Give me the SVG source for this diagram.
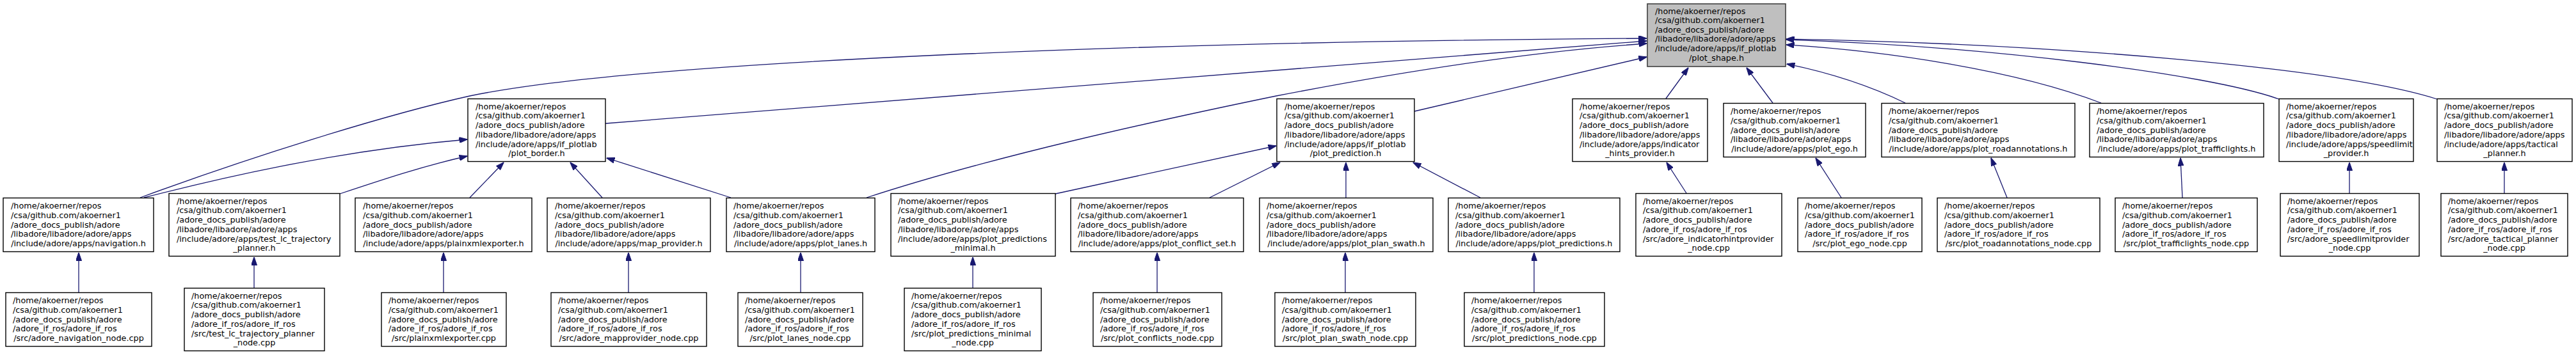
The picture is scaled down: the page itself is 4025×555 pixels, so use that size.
<svg xmlns="http://www.w3.org/2000/svg" width="4025" height="555" viewBox="0 0 4025 555">
<style>
.n rect{fill:#ffffff;stroke:#000000;stroke-width:1.4}
.r rect{fill:#bfbfbf;stroke:#404040;stroke-width:1.6}
text{font-family:"DejaVu Sans",Verdana,sans-serif;font-size:12.8px;fill:#000000}
.c{text-anchor:middle}
.e path{fill:none;stroke:#191970;stroke-width:1.3;marker-end:url(#arr)}
</style>
<defs>
<marker id="arr" markerUnits="userSpaceOnUse" viewBox="0 0 13 9" markerWidth="13" markerHeight="9" refX="12.5" refY="4.5" orient="auto">
<path d="M0,0 L13,4.5 L0,9 Z" fill="#191970" stroke="#191970" stroke-width="1"/>
</marker>
</defs>
<rect x="0" y="0" width="4025" height="555" fill="#ffffff"/>

<g id="edges" class="e">
<path d="M225,309 C330,282 520,236 730,218"/>
<path d="M219,309 C390,246 600,180 734,150 C1000,95 1800,65 2573,60"/>
<path d="M531,303 C600,280 660,260 730,244"/>
<path d="M734,309 L787,254"/>
<path d="M941,309 L891,254"/>
<path d="M1142,309 L948,247"/>
<path d="M946,193 L2573,64"/>
<path d="M1354,309 C1550,245 1800,190 1994,150 C2200,110 2400,80 2573,68"/>
<path d="M1649,303 L1994,228"/>
<path d="M1890,309 L2000,254"/>
<path d="M2103,309 L2103,254"/>
<path d="M2313,309 L2208,254"/>
<path d="M2210,174 L2573,89"/>
<path d="M2603,154 L2638,106"/>
<path d="M2770,161 L2729,106"/>
<path d="M2977,161 C2940,143 2880,118 2792,100"/>
<path d="M3283,161 C3150,110 2950,80 2791,70"/>
<path d="M3561,155 C3450,115 3100,72 2791,62"/>
<path d="M3808,155 C3650,105 3200,68 2791,61"/>
<path d="M2635,302 L2604,254"/>
<path d="M2877,309 L2837,247"/>
<path d="M3136,309 L3111,247"/>
<path d="M3410,309 L3407,247"/>
<path d="M3671,302 L3671,254"/>
<path d="M3913,302 L3913,254"/>
<path d="M123,457 L123,395"/>
<path d="M397,450 L397,402"/>
<path d="M693,457 L693,395"/>
<path d="M982,457 L982,395"/>
<path d="M1251,457 L1251,395"/>
<path d="M1520,450 L1520,402"/>
<path d="M1808,457 L1808,395"/>
<path d="M2102,457 L2102,395"/>
<path d="M2397,457 L2397,395"/>
</g>

<g id="root" class="r">
<rect x="2574" y="6" width="216" height="98"/>
<text x="2586" y="21.5"><tspan x="2586">/home/akoerner/repos</tspan><tspan x="2586" dy="14.6">/csa/github.com/akoerner1</tspan><tspan x="2586" dy="14.6">/adore_docs_publish/adore</tspan><tspan x="2586" dy="14.6">/libadore/libadore/adore/apps</tspan><tspan x="2586" dy="14.6">/include/adore/apps/if_plotlab</tspan></text>
<text class="c" x="2682" y="94.5">/plot_shape.h</text>
</g>

<g id="plot_border" class="n">
<rect x="731" y="154.5" width="215" height="98"/>
<text x="743" y="170.75"><tspan x="743">/home/akoerner/repos</tspan><tspan x="743" dy="14.7">/csa/github.com/akoerner1</tspan><tspan x="743" dy="14.7">/adore_docs_publish/adore</tspan><tspan x="743" dy="14.7">/libadore/libadore/adore/apps</tspan><tspan x="743" dy="14.7">/include/adore/apps/if_plotlab</tspan></text>
<text class="c" x="838.5" y="244.25">/plot_border.h</text>
</g>

<g id="plot_prediction" class="n">
<rect x="1995" y="154.5" width="215" height="98"/>
<text x="2007" y="170.75"><tspan x="2007">/home/akoerner/repos</tspan><tspan x="2007" dy="14.7">/csa/github.com/akoerner1</tspan><tspan x="2007" dy="14.7">/adore_docs_publish/adore</tspan><tspan x="2007" dy="14.7">/libadore/libadore/adore/apps</tspan><tspan x="2007" dy="14.7">/include/adore/apps/if_plotlab</tspan></text>
<text class="c" x="2102.5" y="244.25">/plot_prediction.h</text>
</g>

<g id="indicator_hints_provider" class="n">
<rect x="2457" y="154.5" width="211" height="98"/>
<text x="2468" y="170.75"><tspan x="2468">/home/akoerner/repos</tspan><tspan x="2468" dy="14.7">/csa/github.com/akoerner1</tspan><tspan x="2468" dy="14.7">/adore_docs_publish/adore</tspan><tspan x="2468" dy="14.7">/libadore/libadore/adore/apps</tspan><tspan x="2468" dy="14.7">/include/adore/apps/indicator</tspan></text>
<text class="c" x="2562.5" y="244.25">_hints_provider.h</text>
</g>

<g id="plot_ego" class="n">
<rect x="2693" y="161.5" width="222" height="84"/>
<text x="2704" y="178.1"><tspan x="2704">/home/akoerner/repos</tspan><tspan x="2704" dy="14.7">/csa/github.com/akoerner1</tspan><tspan x="2704" dy="14.7">/adore_docs_publish/adore</tspan><tspan x="2704" dy="14.7">/libadore/libadore/adore/apps</tspan></text>
<text class="c" x="2804" y="236.9">/include/adore/apps/plot_ego.h</text>
</g>

<g id="plot_roadannotations" class="n">
<rect x="2940" y="161.5" width="302" height="84"/>
<text x="2951" y="178.1"><tspan x="2951">/home/akoerner/repos</tspan><tspan x="2951" dy="14.7">/csa/github.com/akoerner1</tspan><tspan x="2951" dy="14.7">/adore_docs_publish/adore</tspan><tspan x="2951" dy="14.7">/libadore/libadore/adore/apps</tspan></text>
<text class="c" x="3091" y="236.9">/include/adore/apps/plot_roadannotations.h</text>
</g>

<g id="plot_trafficlights" class="n">
<rect x="3265" y="161.5" width="272" height="84"/>
<text x="3276" y="178.1"><tspan x="3276">/home/akoerner/repos</tspan><tspan x="3276" dy="14.7">/csa/github.com/akoerner1</tspan><tspan x="3276" dy="14.7">/adore_docs_publish/adore</tspan><tspan x="3276" dy="14.7">/libadore/libadore/adore/apps</tspan></text>
<text class="c" x="3401" y="236.9">/include/adore/apps/plot_trafficlights.h</text>
</g>

<g id="speedlimit_provider" class="n">
<rect x="3561" y="154.5" width="210" height="98"/>
<text x="3572" y="170.75"><tspan x="3572">/home/akoerner/repos</tspan><tspan x="3572" dy="14.7">/csa/github.com/akoerner1</tspan><tspan x="3572" dy="14.7">/adore_docs_publish/adore</tspan><tspan x="3572" dy="14.7">/libadore/libadore/adore/apps</tspan><tspan x="3572" dy="14.7">/include/adore/apps/speedlimit</tspan></text>
<text class="c" x="3666" y="244.25">_provider.h</text>
</g>

<g id="tactical_planner" class="n">
<rect x="3808" y="154.5" width="211" height="98"/>
<text x="3819" y="170.75"><tspan x="3819">/home/akoerner/repos</tspan><tspan x="3819" dy="14.7">/csa/github.com/akoerner1</tspan><tspan x="3819" dy="14.7">/adore_docs_publish/adore</tspan><tspan x="3819" dy="14.7">/libadore/libadore/adore/apps</tspan><tspan x="3819" dy="14.7">/include/adore/apps/tactical</tspan></text>
<text class="c" x="3913.5" y="244.25">_planner.h</text>
</g>

<g id="navigation" class="n">
<rect x="5" y="309.5" width="235" height="84"/>
<text x="17" y="326.1"><tspan x="17">/home/akoerner/repos</tspan><tspan x="17" dy="14.7">/csa/github.com/akoerner1</tspan><tspan x="17" dy="14.7">/adore_docs_publish/adore</tspan><tspan x="17" dy="14.7">/libadore/libadore/adore/apps</tspan></text>
<text class="c" x="122.5" y="384.9">/include/adore/apps/navigation.h</text>
</g>

<g id="test_lc_trajectory_planner" class="n">
<rect x="264" y="302.5" width="267" height="98"/>
<text x="276" y="318.75"><tspan x="276">/home/akoerner/repos</tspan><tspan x="276" dy="14.7">/csa/github.com/akoerner1</tspan><tspan x="276" dy="14.7">/adore_docs_publish/adore</tspan><tspan x="276" dy="14.7">/libadore/libadore/adore/apps</tspan><tspan x="276" dy="14.7">/include/adore/apps/test_lc_trajectory</tspan></text>
<text class="c" x="397.5" y="392.25">_planner.h</text>
</g>

<g id="plainxmlexporter" class="n">
<rect x="555" y="309.5" width="276" height="84"/>
<text x="567" y="326.1"><tspan x="567">/home/akoerner/repos</tspan><tspan x="567" dy="14.7">/csa/github.com/akoerner1</tspan><tspan x="567" dy="14.7">/adore_docs_publish/adore</tspan><tspan x="567" dy="14.7">/libadore/libadore/adore/apps</tspan></text>
<text class="c" x="693" y="384.9">/include/adore/apps/plainxmlexporter.h</text>
</g>

<g id="map_provider" class="n">
<rect x="855" y="309.5" width="255" height="84"/>
<text x="867" y="326.1"><tspan x="867">/home/akoerner/repos</tspan><tspan x="867" dy="14.7">/csa/github.com/akoerner1</tspan><tspan x="867" dy="14.7">/adore_docs_publish/adore</tspan><tspan x="867" dy="14.7">/libadore/libadore/adore/apps</tspan></text>
<text class="c" x="982.5" y="384.9">/include/adore/apps/map_provider.h</text>
</g>

<g id="plot_lanes" class="n">
<rect x="1135" y="309.5" width="232" height="84"/>
<text x="1146" y="326.1"><tspan x="1146">/home/akoerner/repos</tspan><tspan x="1146" dy="14.7">/csa/github.com/akoerner1</tspan><tspan x="1146" dy="14.7">/adore_docs_publish/adore</tspan><tspan x="1146" dy="14.7">/libadore/libadore/adore/apps</tspan></text>
<text class="c" x="1251" y="384.9">/include/adore/apps/plot_lanes.h</text>
</g>

<g id="plot_predictions_minimal" class="n">
<rect x="1392" y="302.5" width="257" height="98"/>
<text x="1403" y="318.75"><tspan x="1403">/home/akoerner/repos</tspan><tspan x="1403" dy="14.7">/csa/github.com/akoerner1</tspan><tspan x="1403" dy="14.7">/adore_docs_publish/adore</tspan><tspan x="1403" dy="14.7">/libadore/libadore/adore/apps</tspan><tspan x="1403" dy="14.7">/include/adore/apps/plot_predictions</tspan></text>
<text class="c" x="1520.5" y="392.25">_minimal.h</text>
</g>

<g id="plot_conflict_set" class="n">
<rect x="1673" y="309.5" width="270" height="84"/>
<text x="1684" y="326.1"><tspan x="1684">/home/akoerner/repos</tspan><tspan x="1684" dy="14.7">/csa/github.com/akoerner1</tspan><tspan x="1684" dy="14.7">/adore_docs_publish/adore</tspan><tspan x="1684" dy="14.7">/libadore/libadore/adore/apps</tspan></text>
<text class="c" x="1808" y="384.9">/include/adore/apps/plot_conflict_set.h</text>
</g>

<g id="plot_plan_swath" class="n">
<rect x="1968" y="309.5" width="271" height="84"/>
<text x="1979" y="326.1"><tspan x="1979">/home/akoerner/repos</tspan><tspan x="1979" dy="14.7">/csa/github.com/akoerner1</tspan><tspan x="1979" dy="14.7">/adore_docs_publish/adore</tspan><tspan x="1979" dy="14.7">/libadore/libadore/adore/apps</tspan></text>
<text class="c" x="2103.5" y="384.9">/include/adore/apps/plot_plan_swath.h</text>
</g>

<g id="plot_predictions" class="n">
<rect x="2263" y="309.5" width="268" height="84"/>
<text x="2274" y="326.1"><tspan x="2274">/home/akoerner/repos</tspan><tspan x="2274" dy="14.7">/csa/github.com/akoerner1</tspan><tspan x="2274" dy="14.7">/adore_docs_publish/adore</tspan><tspan x="2274" dy="14.7">/libadore/libadore/adore/apps</tspan></text>
<text class="c" x="2397" y="384.9">/include/adore/apps/plot_predictions.h</text>
</g>

<g id="adore_indicatorhintprovider_node" class="n">
<rect x="2556" y="302.5" width="228" height="98"/>
<text x="2567" y="318.75"><tspan x="2567">/home/akoerner/repos</tspan><tspan x="2567" dy="14.7">/csa/github.com/akoerner1</tspan><tspan x="2567" dy="14.7">/adore_docs_publish/adore</tspan><tspan x="2567" dy="14.7">/adore_if_ros/adore_if_ros</tspan><tspan x="2567" dy="14.7">/src/adore_indicatorhintprovider</tspan></text>
<text class="c" x="2670" y="392.25">_node.cpp</text>
</g>

<g id="plot_ego_node" class="n">
<rect x="2809" y="309.5" width="194" height="84"/>
<text x="2820" y="326.1"><tspan x="2820">/home/akoerner/repos</tspan><tspan x="2820" dy="14.7">/csa/github.com/akoerner1</tspan><tspan x="2820" dy="14.7">/adore_docs_publish/adore</tspan><tspan x="2820" dy="14.7">/adore_if_ros/adore_if_ros</tspan></text>
<text class="c" x="2906" y="384.9">/src/plot_ego_node.cpp</text>
</g>

<g id="plot_roadannotations_node" class="n">
<rect x="3027" y="309.5" width="254" height="84"/>
<text x="3038" y="326.1"><tspan x="3038">/home/akoerner/repos</tspan><tspan x="3038" dy="14.7">/csa/github.com/akoerner1</tspan><tspan x="3038" dy="14.7">/adore_docs_publish/adore</tspan><tspan x="3038" dy="14.7">/adore_if_ros/adore_if_ros</tspan></text>
<text class="c" x="3154" y="384.9">/src/plot_roadannotations_node.cpp</text>
</g>

<g id="plot_trafficlights_node" class="n">
<rect x="3305" y="309.5" width="222" height="84"/>
<text x="3316" y="326.1"><tspan x="3316">/home/akoerner/repos</tspan><tspan x="3316" dy="14.7">/csa/github.com/akoerner1</tspan><tspan x="3316" dy="14.7">/adore_docs_publish/adore</tspan><tspan x="3316" dy="14.7">/adore_if_ros/adore_if_ros</tspan></text>
<text class="c" x="3416" y="384.9">/src/plot_trafficlights_node.cpp</text>
</g>

<g id="adore_speedlimitprovider_node" class="n">
<rect x="3563" y="302.5" width="217" height="98"/>
<text x="3574" y="318.75"><tspan x="3574">/home/akoerner/repos</tspan><tspan x="3574" dy="14.7">/csa/github.com/akoerner1</tspan><tspan x="3574" dy="14.7">/adore_docs_publish/adore</tspan><tspan x="3574" dy="14.7">/adore_if_ros/adore_if_ros</tspan><tspan x="3574" dy="14.7">/src/adore_speedlimitprovider</tspan></text>
<text class="c" x="3671.5" y="392.25">_node.cpp</text>
</g>

<g id="adore_tactical_planner_node" class="n">
<rect x="3814" y="302.5" width="198" height="98"/>
<text x="3825" y="318.75"><tspan x="3825">/home/akoerner/repos</tspan><tspan x="3825" dy="14.7">/csa/github.com/akoerner1</tspan><tspan x="3825" dy="14.7">/adore_docs_publish/adore</tspan><tspan x="3825" dy="14.7">/adore_if_ros/adore_if_ros</tspan><tspan x="3825" dy="14.7">/src/adore_tactical_planner</tspan></text>
<text class="c" x="3913" y="392.25">_node.cpp</text>
</g>

<g id="adore_navigation_node" class="n">
<rect x="9" y="457.5" width="228" height="84"/>
<text x="20" y="474.1"><tspan x="20">/home/akoerner/repos</tspan><tspan x="20" dy="14.7">/csa/github.com/akoerner1</tspan><tspan x="20" dy="14.7">/adore_docs_publish/adore</tspan><tspan x="20" dy="14.7">/adore_if_ros/adore_if_ros</tspan></text>
<text class="c" x="123" y="532.9">/src/adore_navigation_node.cpp</text>
</g>

<g id="test_lc_trajectory_planner_node" class="n">
<rect x="288" y="450.5" width="219" height="98"/>
<text x="299" y="466.75"><tspan x="299">/home/akoerner/repos</tspan><tspan x="299" dy="14.7">/csa/github.com/akoerner1</tspan><tspan x="299" dy="14.7">/adore_docs_publish/adore</tspan><tspan x="299" dy="14.7">/adore_if_ros/adore_if_ros</tspan><tspan x="299" dy="14.7">/src/test_lc_trajectory_planner</tspan></text>
<text class="c" x="397.5" y="540.25">_node.cpp</text>
</g>

<g id="plainxmlexporter_cpp" class="n">
<rect x="596" y="457.5" width="195" height="84"/>
<text x="607" y="474.1"><tspan x="607">/home/akoerner/repos</tspan><tspan x="607" dy="14.7">/csa/github.com/akoerner1</tspan><tspan x="607" dy="14.7">/adore_docs_publish/adore</tspan><tspan x="607" dy="14.7">/adore_if_ros/adore_if_ros</tspan></text>
<text class="c" x="693.5" y="532.9">/src/plainxmlexporter.cpp</text>
</g>

<g id="adore_mapprovider_node" class="n">
<rect x="861" y="457.5" width="243" height="84"/>
<text x="872" y="474.1"><tspan x="872">/home/akoerner/repos</tspan><tspan x="872" dy="14.7">/csa/github.com/akoerner1</tspan><tspan x="872" dy="14.7">/adore_docs_publish/adore</tspan><tspan x="872" dy="14.7">/adore_if_ros/adore_if_ros</tspan></text>
<text class="c" x="982.5" y="532.9">/src/adore_mapprovider_node.cpp</text>
</g>

<g id="plot_lanes_node" class="n">
<rect x="1153" y="457.5" width="195" height="84"/>
<text x="1164" y="474.1"><tspan x="1164">/home/akoerner/repos</tspan><tspan x="1164" dy="14.7">/csa/github.com/akoerner1</tspan><tspan x="1164" dy="14.7">/adore_docs_publish/adore</tspan><tspan x="1164" dy="14.7">/adore_if_ros/adore_if_ros</tspan></text>
<text class="c" x="1250.5" y="532.9">/src/plot_lanes_node.cpp</text>
</g>

<g id="plot_predictions_minimal_node" class="n">
<rect x="1413" y="450.5" width="214" height="98"/>
<text x="1424" y="466.75"><tspan x="1424">/home/akoerner/repos</tspan><tspan x="1424" dy="14.7">/csa/github.com/akoerner1</tspan><tspan x="1424" dy="14.7">/adore_docs_publish/adore</tspan><tspan x="1424" dy="14.7">/adore_if_ros/adore_if_ros</tspan><tspan x="1424" dy="14.7">/src/plot_predictions_minimal</tspan></text>
<text class="c" x="1520" y="540.25">_node.cpp</text>
</g>

<g id="plot_conflicts_node" class="n">
<rect x="1708" y="457.5" width="201" height="84"/>
<text x="1719" y="474.1"><tspan x="1719">/home/akoerner/repos</tspan><tspan x="1719" dy="14.7">/csa/github.com/akoerner1</tspan><tspan x="1719" dy="14.7">/adore_docs_publish/adore</tspan><tspan x="1719" dy="14.7">/adore_if_ros/adore_if_ros</tspan></text>
<text class="c" x="1808.5" y="532.9">/src/plot_conflicts_node.cpp</text>
</g>

<g id="plot_plan_swath_node" class="n">
<rect x="1992" y="457.5" width="220" height="84"/>
<text x="2003" y="474.1"><tspan x="2003">/home/akoerner/repos</tspan><tspan x="2003" dy="14.7">/csa/github.com/akoerner1</tspan><tspan x="2003" dy="14.7">/adore_docs_publish/adore</tspan><tspan x="2003" dy="14.7">/adore_if_ros/adore_if_ros</tspan></text>
<text class="c" x="2102" y="532.9">/src/plot_plan_swath_node.cpp</text>
</g>

<g id="plot_predictions_node" class="n">
<rect x="2288" y="457.5" width="219" height="84"/>
<text x="2299" y="474.1"><tspan x="2299">/home/akoerner/repos</tspan><tspan x="2299" dy="14.7">/csa/github.com/akoerner1</tspan><tspan x="2299" dy="14.7">/adore_docs_publish/adore</tspan><tspan x="2299" dy="14.7">/adore_if_ros/adore_if_ros</tspan></text>
<text class="c" x="2397.5" y="532.9">/src/plot_predictions_node.cpp</text>
</g>
</svg>
